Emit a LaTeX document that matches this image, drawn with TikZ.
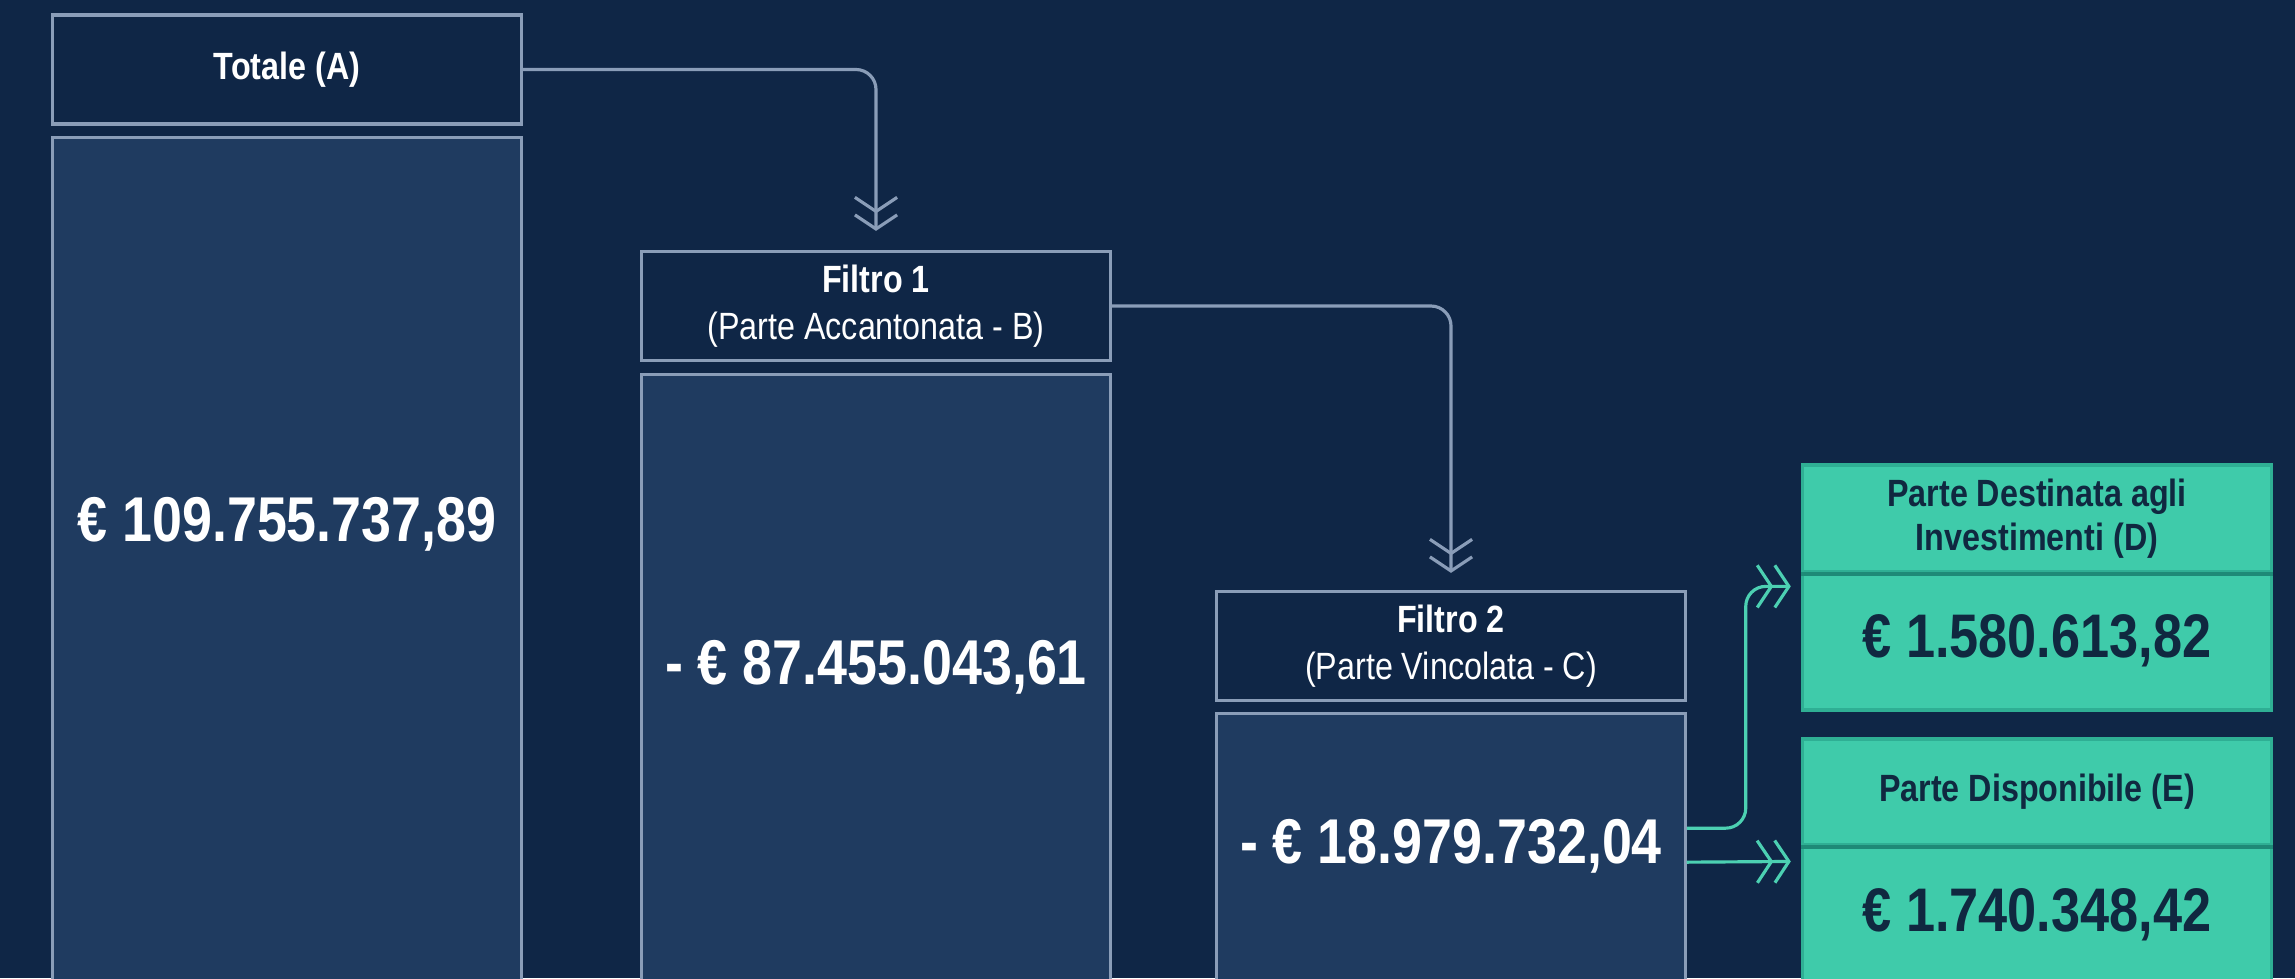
\documentclass[tikz,border=0pt]{standalone}
\usepackage{fontspec}
\setmainfont{Liberation Sans}[FakeStretch=0.85]
\usetikzlibrary{arrows.meta,calc}

\definecolor{bgnavy}{HTML}{0F2646}
\definecolor{colnavy}{HTML}{1F3B60}
\definecolor{edgegray}{HTML}{8A9DB8}
\definecolor{mint}{HTML}{3FCBAA}
\definecolor{mintedge}{HTML}{2FAF94}
\definecolor{mintdark}{HTML}{1E8A77}
\definecolor{inkdark}{HTML}{102840}
\definecolor{flowteal}{HTML}{4CD0B2}

\tikzset{
    headbox/.style={draw=edgegray, line width=0.9pt, fill=bgnavy, text=white, minimum width=4.68cm, minimum height=1.09cm, align=center, inner sep=0pt, font=\fontsize{10.8}{13.3}\selectfont},
    colbox/.style={draw=edgegray, line width=0.9pt, fill=colnavy, minimum width=4.68cm, minimum height=9cm},
    valtext/.style={text=white, font=\bfseries\fontsize{18}{20}\selectfont},
    mintbox/.style={draw=mintedge, line width=0.9pt, fill=mint, text=inkdark, minimum width=4.69cm, align=center, inner sep=0pt},
    mintvalue/.style={font=\bfseries\fontsize{17.5}{20}\selectfont},
    minthead/.style={font=\bfseries\fontsize{10.8}{12.6}\selectfont},
    flow/.style={draw=edgegray, line width=0.9pt, rounded corners=0.2cm, -{Straight Barb[length=4pt,width=12pt] Straight Barb[length=4pt,width=12pt]}},
    flowmint/.style={flow, draw=flowteal}
}

\begin{document}
\begin{tikzpicture}[x=0.01cm, y=-0.01cm]

    % Sfondo
    \useasboundingbox (0,0) rectangle (2295,978);
    \clip (0,0) rectangle (2295,978);
    \fill[bgnavy] (0,0) rectangle (2295,978);

    % Colonne
    \node[colbox] (colA) at (287,588) {};
    \node[colbox] (colB) at (876,825) {};
    \node[colbox] (colC) at (1451,1164) {};

    % Intestazioni
    \node[headbox] (hA) at (287,69.5) {\textbf{Totale (A)}};
    \node[headbox] (hB) at (876,306) {\textbf{Filtro 1}\\(Parte Accantonata - B)};
    \node[headbox] (hC) at (1451,646) {\textbf{Filtro 2}\\(Parte Vincolata - C)};

    % Importi
    \node[valtext] (valA) at (287,524) {€ 109.755.737,89};
    \node[valtext] (valB) at (876,667) {- € 87.455.043,61};
    \node[valtext] (valC) at (1451,846) {- € 18.979.732,04};

    % Risultati
    \node[mintbox, minthead, minimum height=1.07cm] (hD) at (2037,518.5) {Parte Destinata agli\\Investimenti (D)};
    \node[mintbox, mintvalue, minimum height=1.38cm] (vD) at (2037,641) {€ 1.580.613,82};
    \node[mintbox, minthead, minimum height=1.06cm] (hE) at (2037,792) {Parte Disponibile (E)};
    \node[mintbox, mintvalue, minimum height=1.40cm] (vE) at (2037,915) {€ 1.740.348,42};
    \draw[mintdark, line width=1.2pt] (hD.south west) -- (hD.south east);
    \draw[mintdark, line width=1.2pt] (hE.south west) -- (hE.south east);

    % Frecce
    \draw[flow, shorten >=0.19cm] (hA.east) -| (hB.north);
    \draw[flow, shorten >=0.17cm] (hB.east) -| (hC.north);
    \draw[flowmint, shorten >=0.1cm] ($(colC.north east)+(0,116)$) -- ++(59,0) |- ($(vD.north west)+(0,16)$);
    \draw[flowmint, shorten >=0.1cm] ($(colC.north east)+(0,150)$) -- ($(vE.north west)+(0,18)$);

\end{tikzpicture}
\end{document}
